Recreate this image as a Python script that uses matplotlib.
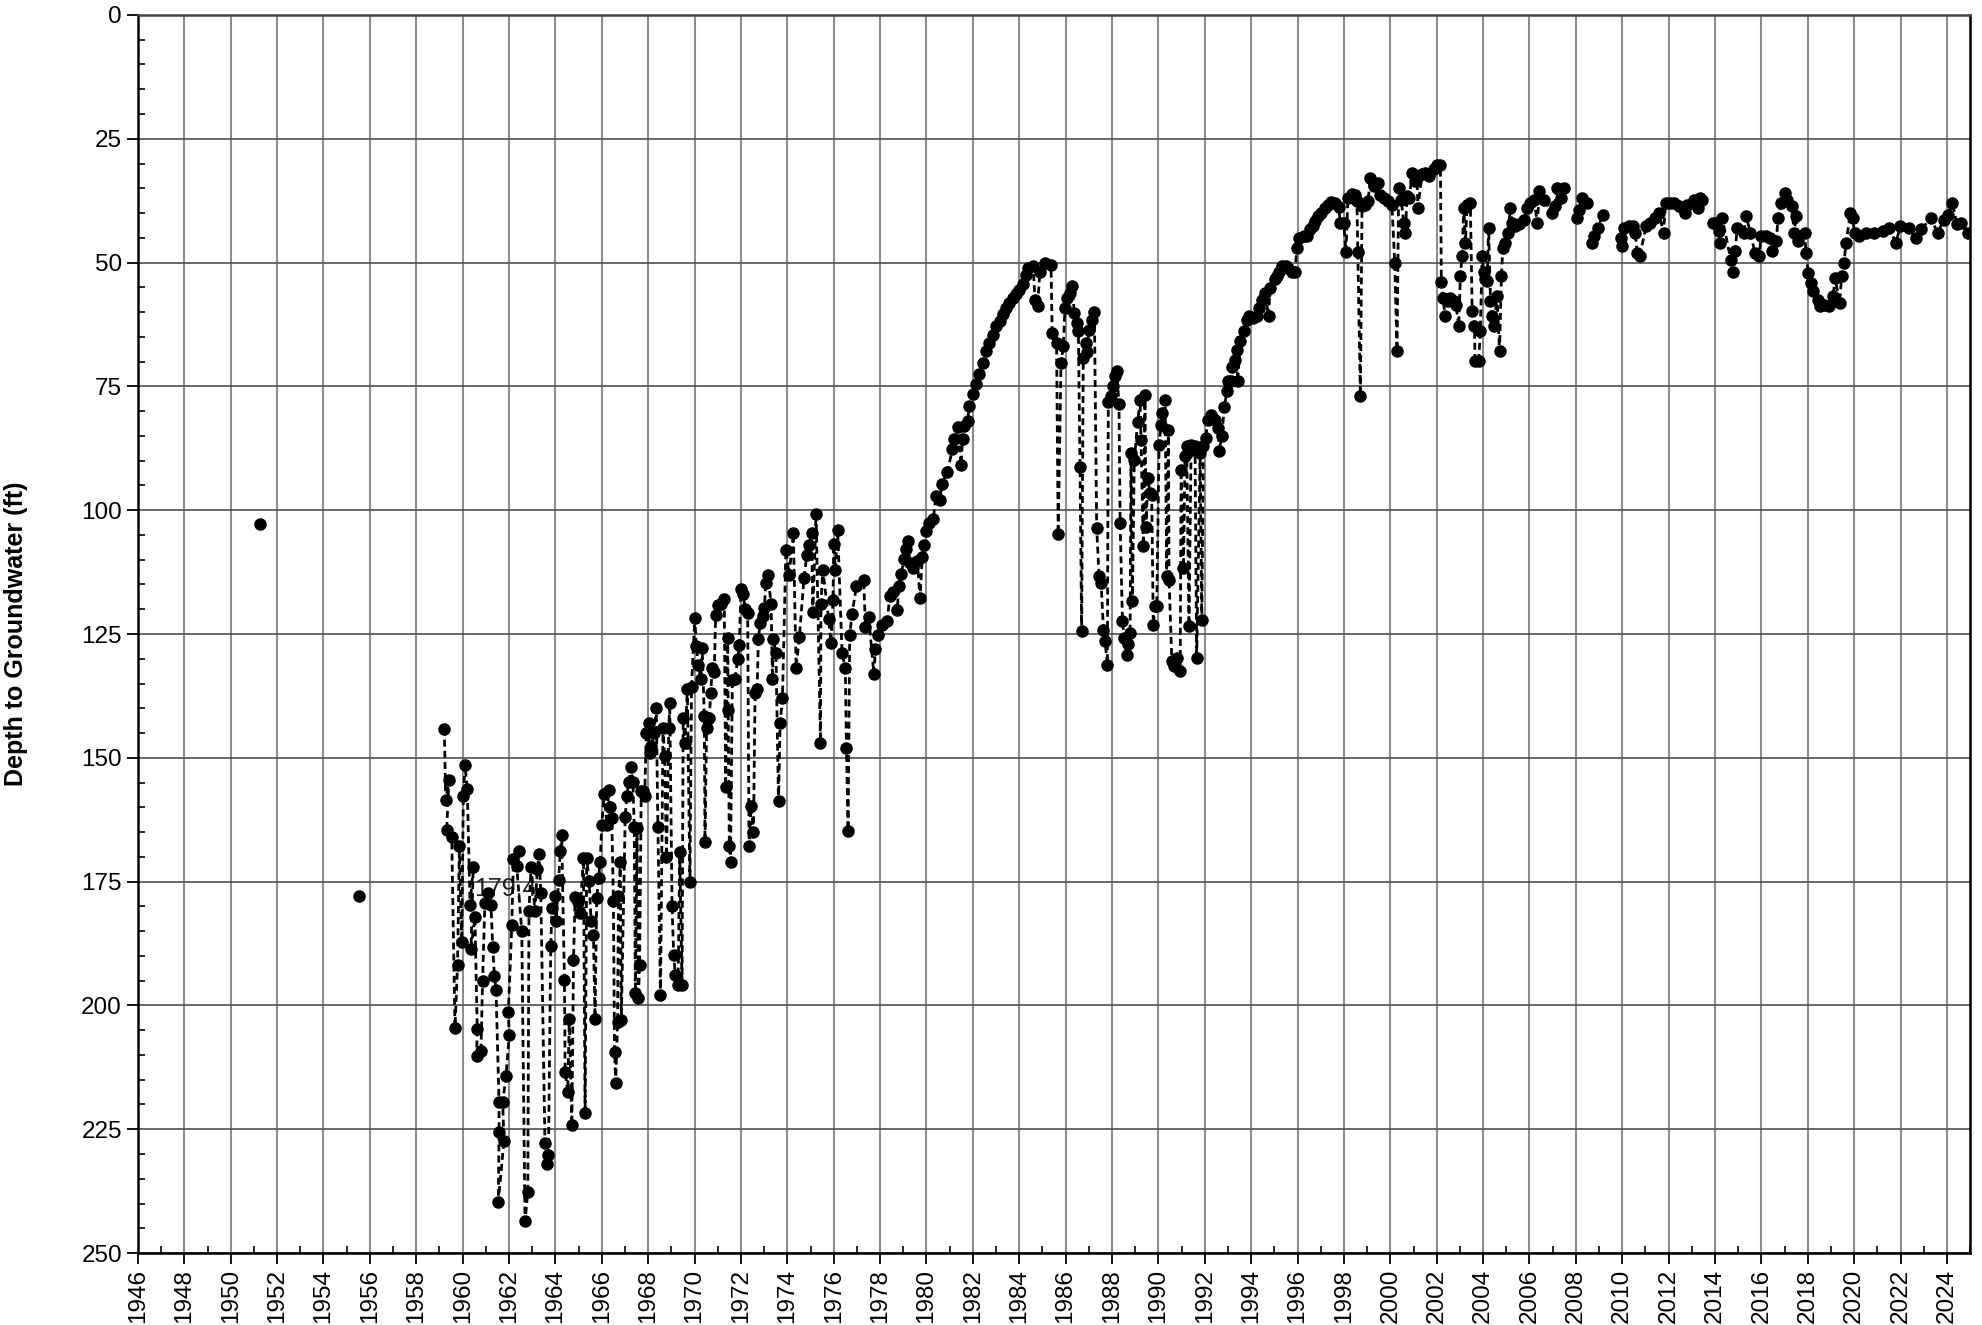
import numpy as np
import matplotlib.pyplot as plt
from matplotlib.ticker import MultipleLocator

plt.rcParams["font.family"] = ["Liberation Sans", "DejaVu Sans"]

# isolated early measurements (no connecting line)
EARLY_YEAR = [1951.25, 1955.55]
EARLY_DEPTH = [102.7, 178.0]

# 1959 - 1966
YEAR_A = [1959.21, 1959.27, 1959.41, 1959.31, 1959.53, 1959.67, 1959.78, 1959.86, 1959.96,
          1960.03, 1960.10, 1960.20, 1960.32, 1960.46, 1960.36, 1960.53, 1960.63, 1960.60,
          1960.79, 1960.86, 1960.96, 1961.08, 1961.22, 1961.30, 1961.37, 1961.44, 1961.57,
          1961.57, 1961.54, 1961.78, 1961.73, 1961.87, 1962.01, 1961.97, 1962.12, 1962.19,
          1962.45, 1962.33, 1962.55, 1962.69, 1962.81, 1962.86, 1962.95, 1963.12, 1963.22,
          1963.29, 1963.37, 1963.55, 1963.63, 1963.70, 1963.80, 1963.85, 1963.99, 1964.03,
          1964.14, 1964.21, 1964.27, 1964.39, 1964.42, 1964.53, 1964.60, 1964.71, 1964.78,
          1964.85, 1964.99, 1965.06, 1965.21, 1965.28, 1965.35, 1965.45, 1965.54, 1965.64,
          1965.71, 1965.78, 1965.86, 1965.93, 1966.00, 1966.10, 1966.22, 1966.29, 1966.36,
          1966.43, 1966.50, 1966.55, 1966.60, 1966.68, 1966.72, 1966.80, 1966.84]
DEPTH_A = [144.1, 158.5, 154.5, 164.6, 166.0, 204.5, 191.9, 167.8, 187.2,
           157.8, 151.5, 156.2, 179.7, 172.0, 188.6, 182.2, 204.8, 210.2,
           209.1, 195.1, 179.3, 177.2, 179.7, 188.3, 194.0, 196.9, 219.5,
           225.6, 239.7, 227.4, 219.5, 214.2, 205.9, 201.4, 183.8, 170.5,
           168.9, 171.8, 184.9, 243.6, 237.6, 180.9, 172.1, 180.9, 172.5,
           169.4, 177.2, 227.8, 232.1, 230.2, 187.9, 180.4, 177.9, 182.9,
           174.6, 168.9, 165.5, 194.8, 213.4, 217.4, 202.7, 224.2, 190.8,
           178.2, 179.2, 181.3, 170.3, 221.7, 170.3, 174.9, 182.9, 185.8,
           202.7, 178.4, 174.3, 171.0, 163.5, 157.4, 163.5, 156.5, 159.9,
           162.1, 179.0, 209.5, 215.6, 203.4, 178.0, 171.0, 203.0]

# 1967 - 1974
YEAR_B = [1967.01, 1967.07, 1967.17, 1967.27, 1967.34, 1967.40, 1967.45, 1967.52, 1967.58,
          1967.63, 1967.70, 1967.78, 1967.85, 1967.92, 1968.02, 1968.06, 1968.14, 1968.25,
          1968.35, 1968.42, 1968.53, 1968.64, 1968.71, 1968.79, 1968.89, 1968.93, 1969.03,
          1969.10, 1969.17, 1969.29, 1969.36, 1969.46, 1969.51, 1969.58, 1969.69, 1969.80,
          1969.87, 1970.01, 1970.08, 1970.16, 1970.27, 1970.33, 1970.42, 1970.45, 1970.52,
          1970.63, 1970.70, 1970.76, 1970.85, 1970.91, 1970.99, 1971.14, 1971.28, 1971.34,
          1971.43, 1971.45, 1971.50, 1971.55, 1971.63, 1971.74, 1971.86, 1971.93, 1972.00,
          1972.10, 1972.18, 1972.29, 1972.35, 1972.44, 1972.54, 1972.61, 1972.70, 1972.75,
          1972.83, 1972.93, 1973.01, 1973.07, 1973.16, 1973.30, 1973.36, 1973.40, 1973.51,
          1973.62, 1973.69, 1973.79, 1973.94, 1974.08]
DEPTH_B = [162.0, 157.8, 154.8, 151.9, 154.8, 163.9, 197.5, 164.2, 198.5,
           191.8, 156.8, 156.8, 157.8, 145.0, 143.0, 149.0, 147.7, 145.0,
           140.0, 163.9, 197.9, 144.0, 149.7, 170.0, 144.0, 139.0, 180.0,
           189.8, 193.9, 195.9, 169.0, 195.9, 142.0, 147.0, 136.1, 175.0,
           135.6, 121.8, 127.5, 131.2, 134.1, 127.8, 141.6, 166.9, 144.0,
           142.0, 136.9, 131.9, 132.7, 121.1, 119.1, 118.9, 117.9, 155.8,
           125.8, 140.3, 167.9, 171.0, 134.2, 134.1, 130.1, 127.2, 116.0,
           117.0, 120.0, 120.8, 167.9, 159.8, 164.9, 136.9, 136.1, 126.0,
           122.8, 121.4, 119.7, 114.8, 113.0, 118.9, 134.1, 126.0, 128.8,
           158.8, 143.0, 137.9, 108.0, 113.0]

# 1974 - 1984
YEAR_C = [1974.26, 1974.38, 1974.52, 1974.72, 1974.84, 1974.95, 1975.05, 1975.10, 1975.24,
          1975.43, 1975.45, 1975.53, 1975.78, 1975.88, 1975.97, 1976.00, 1976.07, 1976.17,
          1976.36, 1976.50, 1976.55, 1976.62, 1976.69, 1976.79, 1976.98, 1977.29, 1977.37,
          1977.51, 1977.73, 1977.80, 1977.92, 1978.09, 1978.31, 1978.42, 1978.57, 1978.74,
          1978.81, 1978.91, 1979.03, 1979.10, 1979.20, 1979.29, 1979.43, 1979.61, 1979.72,
          1979.82, 1979.88, 1979.97, 1980.11, 1980.30, 1980.40, 1980.59, 1980.65, 1980.90,
          1981.12, 1981.20, 1981.34, 1981.49, 1981.56, 1981.63, 1981.77, 1981.85, 1982.00,
          1982.14, 1982.28, 1982.43, 1982.57, 1982.71, 1982.86, 1983.00, 1983.15, 1983.29,
          1983.44, 1983.58, 1983.73, 1983.87, 1984.01, 1984.16, 1984.30]
DEPTH_C = [104.7, 131.8, 125.6, 113.6, 109.1, 107.0, 104.6, 120.6, 100.8,
           147.0, 119.0, 112.0, 121.9, 126.8, 118.2, 106.9, 112.0, 103.9,
           128.9, 131.8, 148.0, 164.7, 125.2, 121.0, 115.3, 114.0, 123.5,
           121.5, 133.0, 128.0, 125.2, 123.1, 122.3, 117.3, 116.5, 120.2,
           115.3, 112.8, 109.9, 107.9, 106.2, 110.7, 111.6, 110.3, 117.7,
           109.5, 107.0, 104.1, 102.5, 101.7, 97.1, 98.0, 94.7, 92.2,
           87.7, 85.6, 83.1, 90.9, 85.6, 83.0, 81.9, 79.0, 76.5,
           74.5, 72.4, 70.3, 67.9, 66.2, 64.6, 62.9, 61.7, 60.4,
           59.2, 58.2, 57.2, 56.3, 55.5, 54.3, 52.5]

# 1984 - 1993
YEAR_D = [1984.39, 1984.60, 1984.68, 1984.79, 1984.89, 1985.11, 1985.37, 1985.42, 1985.61,
          1985.68, 1985.80, 1985.90, 1985.97, 1986.04, 1986.19, 1986.29, 1986.37, 1986.47,
          1986.55, 1986.62, 1986.69, 1986.76, 1986.86, 1986.91, 1987.01, 1987.12, 1987.24,
          1987.34, 1987.44, 1987.53, 1987.63, 1987.70, 1987.80, 1987.84, 1987.96, 1988.06,
          1988.13, 1988.20, 1988.30, 1988.35, 1988.45, 1988.53, 1988.63, 1988.71, 1988.78,
          1988.82, 1988.88, 1988.96, 1989.11, 1989.21, 1989.25, 1989.35, 1989.42, 1989.47,
          1989.54, 1989.64, 1989.71, 1989.78, 1989.86, 1989.93, 1990.03, 1990.12, 1990.17,
          1990.29, 1990.36, 1990.43, 1990.46, 1990.58, 1990.69, 1990.79, 1990.94, 1990.98,
          1991.08, 1991.15, 1991.22, 1991.32, 1991.41, 1991.51, 1991.58, 1991.65, 1991.80,
          1991.87, 1991.94, 1992.04, 1992.13, 1992.27, 1992.42, 1992.56, 1992.62, 1992.73,
          1992.85, 1992.95]
DEPTH_D = [51.1, 50.7, 57.5, 58.7, 51.8, 50.0, 50.5, 64.3, 66.3,
           104.9, 70.2, 66.9, 59.2, 57.2, 56.2, 54.7, 60.1, 62.1,
           63.9, 91.2, 124.4, 69.3, 66.3, 68.0, 63.6, 61.6, 59.9,
           103.6, 113.3, 114.7, 124.1, 126.5, 131.2, 78.2, 77.0, 75.0,
           73.0, 71.8, 78.5, 102.6, 122.4, 125.8, 129.2, 127.1, 124.8,
           88.5, 118.4, 89.8, 82.1, 77.7, 85.8, 107.3, 76.7, 103.3,
           93.5, 96.5, 96.9, 123.1, 119.3, 119.4, 86.8, 82.8, 80.4,
           77.7, 113.3, 83.8, 114.0, 130.5, 131.5, 129.8, 132.5, 91.8,
           111.7, 89.1, 87.1, 123.4, 86.8, 87.8, 87.1, 129.8, 88.5,
           122.1, 87.1, 85.4, 81.7, 80.7, 81.7, 83.4, 88.1, 85.1,
           79.1, 76.0]

# 1993 - 2006
YEAR_E = [1993.02, 1993.14, 1993.19, 1993.31, 1993.38, 1993.42, 1993.53, 1993.67, 1993.81,
          1993.91, 1994.10, 1994.24, 1994.35, 1994.46, 1994.60, 1994.75, 1994.82, 1995.01,
          1995.11, 1995.21, 1995.35, 1995.50, 1995.61, 1995.76, 1995.90, 1995.97, 1996.07,
          1996.26, 1996.40, 1996.55, 1996.65, 1996.76, 1996.88, 1997.02, 1997.17, 1997.31,
          1997.45, 1997.63, 1997.77, 1997.84, 1997.99, 1998.09, 1998.17, 1998.35, 1998.49,
          1998.56, 1998.60, 1998.71, 1998.78, 1998.92, 1999.04, 1999.14, 1999.28, 1999.47,
          1999.57, 1999.71, 1999.90, 2000.07, 2000.19, 2000.29, 2000.36, 2000.47, 2000.58,
          2000.65, 2000.72, 2000.82, 2000.94, 2001.05, 2001.15, 2001.19, 2001.37, 2001.51,
          2001.68, 2001.87, 2002.01, 2002.16, 2002.20, 2002.26, 2002.37, 2002.49, 2002.59,
          2002.73, 2002.83, 2002.95, 2003.02, 2003.09, 2003.17, 2003.24, 2003.31, 2003.45,
          2003.53, 2003.63, 2003.65, 2003.81, 2003.88, 2003.96, 2004.03, 2004.10, 2004.17,
          2004.24, 2004.32, 2004.39, 2004.46, 2004.60, 2004.71, 2004.79, 2004.85, 2004.96,
          2005.08, 2005.18, 2005.25, 2005.39, 2005.54, 2005.76, 2005.90, 2006.04, 2006.19]
DEPTH_E = [74.0, 74.0, 71.0, 69.6, 67.6, 74.0, 65.9, 63.9, 61.5,
           60.8, 61.2, 60.8, 59.2, 57.5, 56.1, 60.8, 55.1, 53.4,
           52.8, 51.8, 50.7, 50.7, 51.1, 51.8, 51.8, 47.0, 45.0,
           44.7, 44.7, 43.3, 42.7, 41.6, 40.6, 40.0, 38.9, 38.3,
           37.8, 37.9, 38.7, 42.0, 42.0, 47.9, 36.9, 36.1, 36.3,
           37.6, 47.9, 77.0, 38.6, 38.3, 37.6, 32.9, 34.6, 33.9,
           36.3, 36.9, 37.6, 38.3, 50.0, 67.9, 34.9, 37.3, 42.0,
           44.0, 36.6, 36.9, 32.0, 33.6, 32.9, 38.9, 32.2, 31.9,
           32.5, 31.2, 30.2, 30.2, 54.0, 57.1, 60.8, 57.8, 57.1,
           57.8, 58.5, 62.9, 52.8, 48.7, 38.9, 46.0, 38.3, 37.9,
           59.8, 62.9, 69.9, 69.9, 63.9, 48.7, 51.8, 53.4, 53.8,
           43.0, 57.8, 60.8, 62.9, 56.8, 67.9, 52.8, 47.0, 46.0,
           44.0, 38.9, 42.0, 42.7, 42.3, 41.3, 38.9, 37.9, 37.3]

# 2006 - 2025 (NaN = gap in record)
YEAR_F = [2006.34, 2006.43, 2006.62, 2006.99, 2007.09, 2007.18, 2007.37, 2007.47, np.nan,
          2008.03, 2008.12, 2008.27, 2008.50, np.nan, 2008.68, 2008.78, 2008.97, 2009.15, np.nan,
          2009.96, 2010.00, 2010.09, 2010.28, 2010.46, 2010.56, 2010.65, 2010.75, 2011.03,
          2011.21, 2011.40, 2011.59, 2011.78, 2011.87, 2012.06, 2012.24, 2012.43, 2012.62,
          2012.71, 2012.81, 2013.09, 2013.28, 2013.37, 2013.46, np.nan,
          2013.90, 2014.03, 2014.16, 2014.21, 2014.31, 2014.68, 2014.78, 2014.87, 2014.96,
          2015.24, 2015.34, 2015.53, 2015.72, 2015.90, 2015.99, 2016.18, 2016.37, 2016.46,
          2016.65, 2016.71, 2016.84, 2017.02, 2017.12, 2017.31, 2017.41, 2017.50, 2017.59,
          2017.87, 2017.92, 2018.02, 2018.15, 2018.24, 2018.43, 2018.52, 2018.71, 2018.90,
          2019.09, 2019.18, 2019.37, 2019.46, 2019.56, 2019.65, 2019.84, 2019.93, 2020.02,
          2020.21, 2020.49, 2020.87, 2021.24, 2021.52, 2021.80, 2021.99, 2022.37, 2022.65,
          2022.90, 2023.30, 2023.60, 2023.87, 2024.05, 2024.24, 2024.43, 2024.62, 2024.90]
DEPTH_F = [42.0, 35.6, 37.3, 40.0, 38.6, 34.9, 36.9, 34.9, np.nan,
           41.0, 39.3, 36.9, 37.9, np.nan, 46.0, 44.7, 43.0, 40.3, np.nan,
           45.0, 46.7, 43.0, 42.7, 42.7, 44.0, 48.0, 48.7, 42.7,
           42.0, 41.0, 40.0, 44.0, 37.9, 37.9, 37.9, 38.6, 39.0,
           40.0, 38.3, 37.3, 39.0, 36.9, 37.3, np.nan,
           42.0, 42.0, 43.7, 46.0, 41.0, 49.4, 51.8, 47.7, 43.0,
           44.0, 40.6, 44.0, 48.0, 48.7, 44.7, 44.7, 45.0, 47.7,
           45.7, 41.0, 37.9, 35.9, 37.3, 38.6, 44.0, 40.6, 45.7,
           44.0, 48.0, 52.1, 54.1, 55.8, 57.5, 58.8, 58.5, 58.8,
           56.8, 53.1, 58.2, 52.8, 50.1, 46.0, 40.0, 41.0, 44.0,
           44.7, 44.0, 44.0, 43.7, 43.0, 46.0, 42.7, 43.0, 45.0,
           43.3, 41.0, 44.0, 41.3, 40.3, 37.9, 42.3, 42.0, 44.0]

NOTE_TEXT = "179.4"
NOTE_YEAR, NOTE_DEPTH = 1961.85, 176.5

years = np.array(YEAR_A + YEAR_B + YEAR_C + YEAR_D + YEAR_E + YEAR_F, dtype=float)
depths = np.array(DEPTH_A + DEPTH_B + DEPTH_C + DEPTH_D + DEPTH_E + DEPTH_F, dtype=float)

fig = plt.figure(figsize=(19.82, 13.25), dpi=100)
ax = fig.add_axes([0.0696, 0.0543, 0.9244, 0.9344])

ax.text(NOTE_YEAR, NOTE_DEPTH, NOTE_TEXT, ha="center", va="center", fontsize=18,
        color="#222222", zorder=2)
ax.plot(years, depths, color="black", linestyle="--", linewidth=2.0, dashes=(2.5, 1.5),
        marker="o", markersize=8, zorder=3)
ax.plot(EARLY_YEAR, EARLY_DEPTH, linestyle="none", marker="o", markersize=8,
        color="black", zorder=3)

ax.set_xlim(1946, 2025)
ax.set_ylim(250, 0)
ax.xaxis.set_major_locator(MultipleLocator(2))
ax.xaxis.set_minor_locator(MultipleLocator(1))
ax.yaxis.set_major_locator(MultipleLocator(25))
ax.yaxis.set_minor_locator(MultipleLocator(5))
ax.tick_params(which="major", direction="out", length=8, width=1.3, labelsize=17.5,
               colors="black")
ax.tick_params(which="minor", direction="in", length=5, width=1.2)
ax.tick_params(axis="x", which="major", labelrotation=90)

ax.grid(True, axis="x", which="major", color="#8c8c8c", linewidth=1.5)
ax.grid(True, axis="y", which="major", color="#505050", linewidth=1.2)
ax.set_axisbelow(True)
for side in ax.spines:
    ax.spines[side].set_linewidth(1.8)
    ax.spines[side].set_color("black")
ax.spines["top"].set_color("#444444")

ax.set_ylabel("Depth to Groundwater (ft)", fontsize=18, fontweight="bold", labelpad=38)

fig.savefig("out.png", dpi=100, facecolor="white")
